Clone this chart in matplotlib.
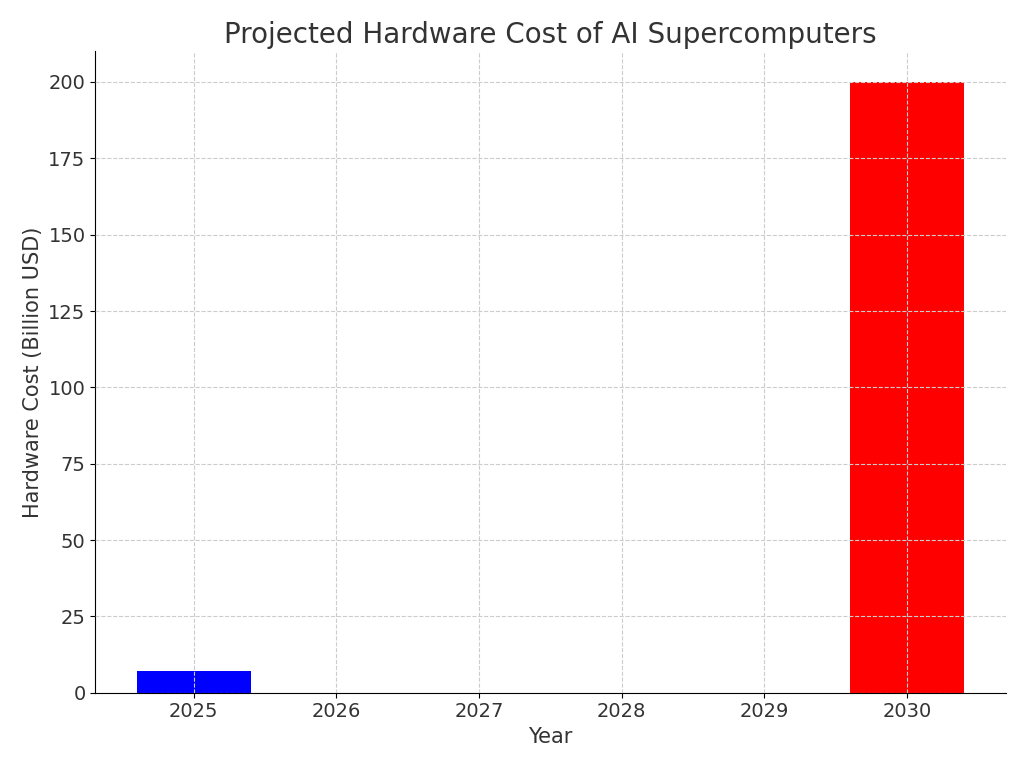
import matplotlib
matplotlib.use("Agg")
import matplotlib.pyplot as plt

years = [2025, 2030]
costs = [7, 200]
colors = ["blue", "red"]
xticks = [2025, 2026, 2027, 2028, 2029, 2030]

fig = plt.figure(figsize=(10.24, 7.68), dpi=100)
ax = fig.add_axes([0.093, 0.098, 0.889, 0.835])
ax.bar(years, costs, color=colors, width=0.8)
ax.set_xticks(xticks)
ax.set_ylim(0, 210)
ax.set_yticks(range(0, 201, 25))
ax.grid(True, linestyle="--", color="#cccccc", linewidth=0.8)
ax.set_axisbelow(False)
for s in ["top", "right"]:
    ax.spines[s].set_visible(False)
tc = "#333333"
ax.set_title("Projected Hardware Cost of AI Supercomputers", fontsize=20, color=tc)
ax.set_xlabel("Year", fontsize=15, color=tc)
ax.set_ylabel("Hardware Cost (Billion USD)", fontsize=15, color=tc)
ax.tick_params(labelsize=14, labelcolor=tc)
fig.savefig("out.png", dpi=100)
